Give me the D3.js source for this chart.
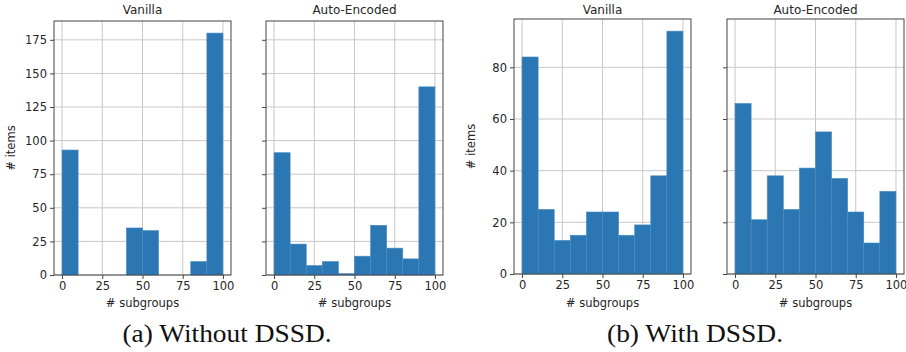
<!DOCTYPE html>
<html>
<head>
<meta charset="utf-8">
<title>Histograms</title>
<script src="https://d3js.org/d3.v7.min.js"></script>
<style>
    body { margin: 0; background: #fff; }
    .tick text { font-family: 'DejaVu Sans', sans-serif; font-size: 11.5px; fill: #262626; }
    .panelTitle { font-family: 'DejaVu Sans', sans-serif; font-size: 12px; fill: #262626; }
    .axisLabel { font-family: 'DejaVu Sans', sans-serif; font-size: 11.5px; fill: #262626; }
    .caption { font-family: 'Liberation Serif', serif; font-size: 25px; fill: #111; }
</style>
</head>
<body>
<svg id="chart" width="906" height="352"></svg>
<script>
    // bin edges shared by all histograms
    const binEdges = [0, 10, 20, 30, 40, 50, 60, 70, 80, 90, 100];
    const xTicks = [0, 25, 50, 75, 100];

    // (a) without DSSD
    const vanillaA = [93, 0, 0, 0, 35, 33, 0, 0, 10, 180];
    const autoEncA = [91, 23, 7, 10, 1, 14, 37, 20, 12, 140];
    const yTicksA = [0, 25, 50, 75, 100, 125, 150, 175];

    // (b) with DSSD
    const vanillaB = [84, 25, 13, 15, 24, 24, 15, 19, 38, 94];
    const autoEncB = [66, 21, 38, 25, 41, 55, 37, 24, 12, 32];
    const yTicksB = [0, 20, 40, 60, 80];

    const titles = ["Vanilla", "Auto-Encoded"];
    const captions = ["(a) Without DSSD.", "(b) With DSSD."];

    const svg = d3.select("#chart");
    const barColor = "#2a77b4";

    const groups = [
        { data: [vanillaA, autoEncA], ticks: yTicksA, lefts: [54, 266], top: 21, bottom: 275, caption: captions[0], capX: 227, capW: 209 },
        { data: [vanillaB, autoEncB], ticks: yTicksB, lefts: [514, 727], top: 19, bottom: 274, caption: captions[1], capX: 695, capW: 176 }
    ];
    const panelW = 177;

    groups.forEach(g => {
        const ymax = d3.max(g.data.flat()) * 1.05;
        const y = d3.scaleLinear().domain([0, ymax]).range([g.bottom, g.top]);

        g.data.forEach((counts, k) => {
            const left = g.lefts[k];
            const x = d3.scaleLinear().domain([-5, 105]).range([left, left + panelW]);
            const p = svg.append("g");

            // grid
            p.selectAll(".vgrid").data(xTicks).enter().append("line")
                .attr("x1", d => x(d)).attr("x2", d => x(d))
                .attr("y1", g.top).attr("y2", g.bottom)
                .attr("stroke", "#c8c8c8").attr("stroke-width", 1);
            p.selectAll(".hgrid").data(g.ticks).enter().append("line")
                .attr("x1", left).attr("x2", left + panelW)
                .attr("y1", d => y(d)).attr("y2", d => y(d))
                .attr("stroke", "#c8c8c8").attr("stroke-width", 1);

            // bars
            const bins = counts.map((c, i) => ({ x0: binEdges[i], x1: binEdges[i + 1], c: c }));
            p.selectAll("rect.bar").data(bins.filter(d => d.c > 0)).enter().append("rect")
                .attr("class", "bar")
                .attr("x", d => x(d.x0))
                .attr("width", d => x(d.x1) - x(d.x0))
                .attr("y", d => y(d.c))
                .attr("height", d => y(0) - y(d.c))
                .attr("fill", barColor)
                .attr("stroke", "#4a8cc0").attr("stroke-width", 0.6);

            // frame
            p.append("rect")
                .attr("x", left).attr("y", g.top)
                .attr("width", panelW).attr("height", g.bottom - g.top)
                .attr("fill", "none").attr("stroke", "#444").attr("stroke-width", 1);

            // axes
            const xAxis = d3.axisBottom(x).tickValues(xTicks).tickSize(4).tickPadding(3);
            p.append("g").attr("transform", "translate(0," + g.bottom + ")").call(xAxis)
                .call(a => a.select(".domain").remove())
                .call(a => a.selectAll(".tick line").attr("stroke", "#444"));

            const yAxis = d3.axisLeft(y).tickValues(g.ticks).tickSize(4).tickPadding(3);
            if (k === 1) yAxis.tickFormat("");
            p.append("g").attr("transform", "translate(" + left + ",0)").call(yAxis)
                .call(a => a.select(".domain").remove())
                .call(a => a.selectAll(".tick line").attr("stroke", "#444"));

            p.append("text").attr("class", "panelTitle")
                .attr("x", left + panelW / 2).attr("y", 14)
                .attr("text-anchor", "middle").text(titles[k]);

            p.append("text").attr("class", "axisLabel")
                .attr("x", x(50)).attr("y", 307)
                .attr("text-anchor", "middle").text("# subgroups");

            if (k === 0) {
                p.append("text").attr("class", "axisLabel")
                    .attr("transform", "translate(" + (left - 39) + "," + ((g.top + g.bottom) / 2) + ") rotate(-90)")
                    .attr("text-anchor", "middle").text("# items");
            }
        });

        svg.append("text").attr("class", "caption")
            .attr("x", g.capX).attr("y", 342)
            .attr("text-anchor", "middle")
            .attr("textLength", g.capW).attr("lengthAdjust", "spacingAndGlyphs")
            .text(g.caption);
    });
</script>
</body>
</html>
